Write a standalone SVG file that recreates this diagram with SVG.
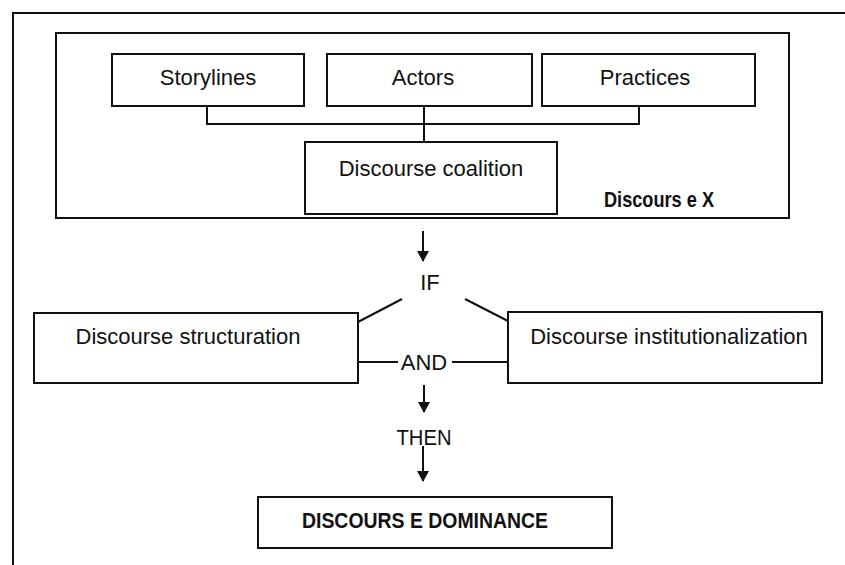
<svg xmlns="http://www.w3.org/2000/svg" width="845" height="565" viewBox="0 0 845 565">
  <style>
    .box { fill: #fff; stroke: #111; stroke-width: 2; }
    .frame { fill: none; stroke: #111; stroke-width: 2; }
    .line { fill: none; stroke: #111; stroke-width: 2; }
    .lbl { font-family: "Liberation Sans", Arial, sans-serif; font-size: 22px; fill: #111; text-anchor: middle; }
    .bold { font-weight: bold; }
  </style>
  <defs>
    <marker id="arrow" markerWidth="12" markerHeight="12" refX="10" refY="6" orient="auto" markerUnits="userSpaceOnUse">
      <path d="M0,0 L11,6 L0,12 Z" fill="#111"/>
    </marker>
  </defs>
  <rect width="845" height="565" fill="#fff"/>

  <!-- outer frame, open on the right and bottom -->
  <path class="frame" d="M13,565 V13 H845"/>

  <!-- Discourse X container -->
  <g id="discourse-x">
    <rect class="box" x="56" y="33" width="733" height="185"/>
    <text class="lbl bold" x="659" y="207" font-size="19" textLength="110" lengthAdjust="spacingAndGlyphs">Discours e X</text>
  </g>

  <g id="storylines">
    <rect class="box" x="112" y="54" width="192" height="52"/>
    <text class="lbl" x="208" y="85">Storylines</text>
  </g>
  <g id="actors">
    <rect class="box" x="327" y="54" width="205" height="52"/>
    <text class="lbl" x="423" y="85">Actors</text>
  </g>
  <g id="practices">
    <rect class="box" x="542" y="54" width="213" height="52"/>
    <text class="lbl" x="645" y="85">Practices</text>
  </g>
  <g id="coalition">
    <rect class="box" x="305" y="142" width="252" height="72"/>
    <text class="lbl" x="431" y="176">Discourse coalition</text>
  </g>

  <g id="structuration">
    <rect class="box" x="34" y="313" width="324" height="70"/>
    <text class="lbl" x="188" y="344">Discourse structuration</text>
  </g>
  <g id="institutionalization">
    <rect class="box" x="508" y="312" width="314" height="71"/>
    <text class="lbl" x="669" y="344">Discourse institutionalization</text>
  </g>

  <g id="dominance">
    <rect class="box" x="258" y="497" width="354" height="51"/>
    <text class="lbl bold" x="425" y="528" font-size="21" textLength="246" lengthAdjust="spacingAndGlyphs">DISCOURS E DOMINANCE</text>
  </g>

  <!-- logic words -->
  <g id="logic">
    <text class="lbl" x="430" y="290">IF</text>
    <text class="lbl" x="424" y="370">AND</text>
    <text class="lbl" x="424" y="445" textLength="55" lengthAdjust="spacingAndGlyphs">THEN</text>
  </g>

  <g id="connectors">
    <path class="line" d="M207,106 V124 H639 V106"/>
    <path class="line" d="M424,106 V142"/>
    <path class="line" d="M423,231 V261" marker-end="url(#arrow)"/>
    <path class="line" d="M402,299 L358,322"/>
    <path class="line" d="M465,299 L508,321"/>
    <path class="line" d="M358,362 H398"/>
    <path class="line" d="M452,362 H508"/>
    <path class="line" d="M424,385 V412" marker-end="url(#arrow)"/>
    <path class="line" d="M423,446 V481" marker-end="url(#arrow)"/>
  </g>
</svg>
